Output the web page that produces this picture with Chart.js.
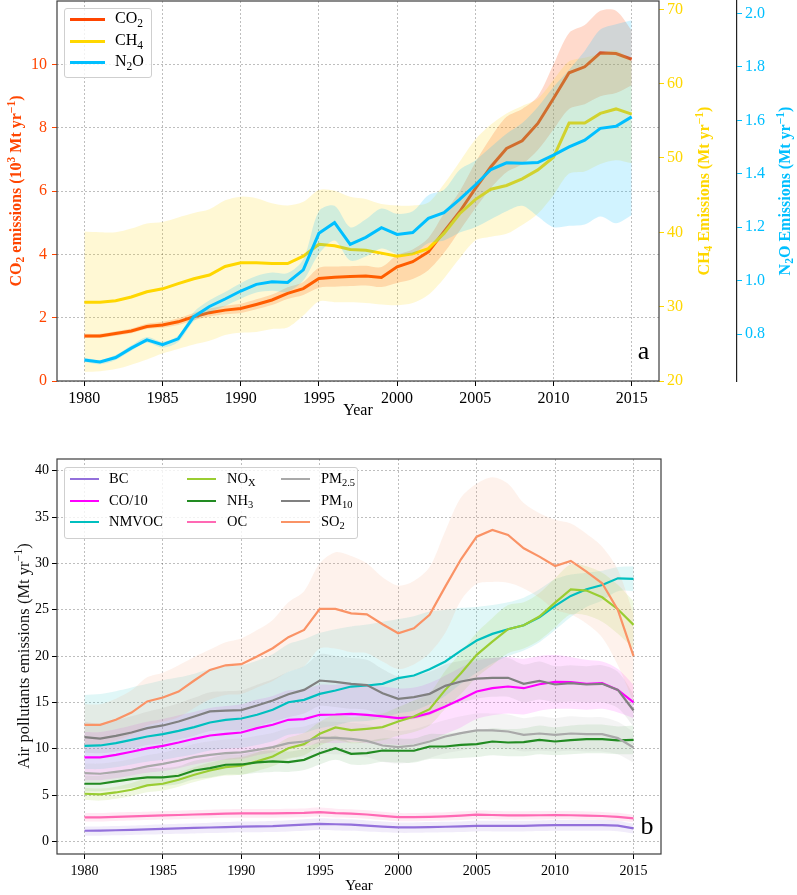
<!DOCTYPE html>
<html><head><meta charset="utf-8">
<script src="https://cdn.jsdelivr.net/npm/chart.js@4.4.1/dist/chart.umd.min.js"></script>
<style>
html,body{margin:0;padding:0;background:#fff;}
#wrap{position:relative;width:797px;height:895px;overflow:hidden;font-family:'Liberation Serif','Times New Roman',serif;color:#000;}
.cv{position:absolute;left:0;}
.lbl{position:absolute;white-space:nowrap;transform:translate(-50%,-50%);line-height:1;}
.vt{transform:translate(-50%,-50%) rotate(-90deg);}
.legend{position:absolute;background:rgba(255,255,255,0.8);border:1px solid #cfcfcf;border-radius:3px;box-sizing:border-box;}
.li{position:absolute;white-space:nowrap;line-height:1;transform:translateY(-55%);}
.sw{position:absolute;}
sub{font-size:72%;vertical-align:-0.3em;line-height:0;}
sup{font-size:72%;vertical-align:0.55em;line-height:0;}
</style></head>
<body><div id="wrap">
<canvas id="c1" class="cv" width="797" height="420" style="top:0"></canvas>
<canvas id="c2" class="cv" width="797" height="475" style="top:420px"></canvas>
<div id="overlay"></div>
</div>
<script>
// ---------------- DATA ----------------
const years = [1980,1981,1982,1983,1984,1985,1986,1987,1988,1989,1990,1991,1992,1993,1994,1995,1996,1997,1998,1999,2000,2001,2002,2003,2004,2005,2006,2007,2008,2009,2010,2011,2012,2013,2014,2015];
const yearTicks = [1980,1985,1990,1995,2000,2005,2010,2015];
const co2Ticks = [0,2,4,6,8,10];
const ch4Ticks = [20,30,40,50,60,70];
const n2oTicks = [0.8,1.0,1.2,1.4,1.6,1.8,2.0];
const polTicks = [0,5,10,15,20,25,30,35,40];

// panel a (CO2 in 10^3 Mt/yr, CH4 in Mt/yr, N2O in Mt/yr)
const co2 = [1.42,1.42,1.50,1.58,1.72,1.77,1.87,2.03,2.16,2.24, 2.29,2.42,2.56,2.77,2.92,3.24,3.28,3.30,3.32,3.27, 3.61,3.77,4.08,4.72,5.35,6.08,6.77,7.35,7.59,8.14, 8.93,9.74,9.93,10.37,10.35,10.17];
const co2Lo = [1.36,1.36,1.43,1.51,1.64,1.68,1.77,1.92,2.04,2.11, 2.15,2.27,2.40,2.59,2.72,2.95,2.98,3.00,3.02,2.97, 3.10,3.22,3.50,4.05,4.75,5.45,6.10,6.60,6.85,7.30, 7.95,8.60,8.75,9.00,9.10,9.35];
const co2Hi = [1.49,1.49,1.57,1.66,1.81,1.87,1.98,2.15,2.29,2.38, 2.44,2.58,2.73,2.96,3.13,3.58,3.62,3.63,3.64,3.60, 3.98,4.16,4.52,5.30,6.00,6.90,7.70,8.35,8.60,9.00, 10.00,11.00,11.25,11.70,11.70,11.08];
const ch4 = [30.6,30.6,30.8,31.3,32.0,32.4,33.1,33.75,34.25,35.4, 35.9,35.9,35.8,35.8,36.8,38.4,38.2,37.7,37.6,37.2, 36.8,37.1,37.8,39.85,42.5,44.4,45.8,46.3,47.2,48.4, 50.1,54.7,54.7,56.0,56.6,55.9];
const ch4Lo = [21.2,21.3,21.6,22.2,22.9,23.7,24.3,24.9,25.4,26.2, 26.5,26.6,27.0,27.2,28.8,30.7,30.6,30.6,30.5,30.3, 30.2,30.5,31.6,33.8,36.5,38.9,39.4,39.8,41.0,42.5, 45.0,47.9,48.2,49.2,49.7,49.3];
const ch4Hi = [40.1,40.0,40.0,40.5,41.2,41.4,42.0,42.6,43.1,44.3, 44.8,44.6,43.9,43.6,44.1,45.7,45.6,44.8,44.5,43.8, 43.6,43.6,44.0,46.5,49.5,52.5,54.5,56.0,57.0,58.0, 60.5,63.0,63.5,64.0,64.5,63.0];
const n2o = [0.703,0.695,0.712,0.747,0.778,0.760,0.782,0.865,0.903,0.931, 0.961,0.986,0.996,0.993,1.040,1.177,1.217,1.136,1.162,1.198, 1.173,1.180,1.233,1.254,1.304,1.358,1.416,1.441,1.439,1.442, 1.470,1.501,1.526,1.570,1.578,1.613];
const n2oLo = [0.695,0.687,0.703,0.737,0.767,0.749,0.770,0.848,0.880,0.905, 0.932,0.955,0.962,0.958,1.000,1.100,1.150,1.075,1.090,1.120, 1.100,1.100,1.140,1.150,1.180,1.200,1.230,1.260,1.280,1.240, 1.200,1.205,1.210,1.240,1.215,1.245];
const n2oHi = [0.711,0.703,0.721,0.757,0.789,0.771,0.794,0.882,0.926,0.957, 0.990,1.017,1.030,1.028,1.080,1.260,1.280,1.200,1.230,1.270, 1.250,1.260,1.320,1.340,1.415,1.450,1.500,1.550,1.590,1.650, 1.725,1.790,1.860,1.940,1.960,1.975];

// panel b (Mt/yr)
const bc = [1.15,1.17,1.20,1.25,1.30,1.35,1.40,1.45,1.50,1.55, 1.60,1.62,1.65,1.72,1.80,1.90,1.85,1.80,1.70,1.60, 1.52,1.52,1.55,1.58,1.62,1.68,1.68,1.68,1.68,1.72, 1.75,1.76,1.76,1.75,1.70,1.40];
const bcLo = [0.60,0.62,0.65,0.70,0.74,0.78,0.82,0.86,0.90,0.94, 0.98,1.00,1.02,1.08,1.14,1.22,1.18,1.14,1.06,0.98, 0.92,0.92,0.95,0.98,1.02,1.08,1.08,1.08,1.08,1.12, 1.15,1.16,1.16,1.15,1.10,0.85];
const bcHi = [1.60,1.62,1.66,1.72,1.78,1.84,1.90,1.96,2.02,2.08, 2.14,2.16,2.20,2.28,2.38,2.50,2.44,2.38,2.26,2.14, 2.05,2.05,2.08,2.12,2.16,2.22,2.22,2.22,2.22,2.26, 2.30,2.31,2.31,2.30,2.24,1.90];
const co10 = [9.06,9.06,9.34,9.67,10.03,10.31,10.67,11.07,11.43,11.61, 11.75,12.22,12.58,13.12,13.19,13.66,13.69,13.76,13.66,13.48, 13.30,13.40,13.84,14.56,15.35,16.17,16.53,16.71,16.53,16.96, 17.21,17.18,17.00,17.07,16.35,14.99];
const co10Lo = [6.6,6.6,6.8,7.1,7.4,7.6,7.9,8.3,8.6,8.8, 8.9,9.3,9.6,10.1,10.2,10.6,10.6,10.7,10.6,10.5, 10.4,10.5,10.9,11.6,12.3,13.2,13.6,13.8,13.7,14.1, 14.3,14.3,14.2,14.3,13.9,13.3];
const co10Hi = [11.8,11.8,12.1,12.5,12.9,13.2,13.6,14.0,14.4,14.6, 14.8,15.3,15.7,16.3,16.4,16.9,16.9,17.0,16.9,16.7, 16.5,16.6,17.1,17.9,18.8,19.5,19.8,19.9,19.7,20.0, 20.1,19.9,19.6,19.4,18.6,16.9];
const nmvoc = [10.31,10.35,10.60,10.96,11.32,11.57,11.93,12.33,12.83,13.12, 13.26,13.66,14.20,15.02,15.27,15.92,16.28,16.71,16.82,17.00, 17.61,17.90,18.58,19.41,20.59,21.67,22.39,22.89,23.32,24.19, 25.41,26.49,27.20,27.67,28.39,28.32];
const nmvocLo = [7.8,7.8,8.0,8.3,8.6,8.8,9.1,9.4,9.8,10.0, 10.1,10.4,10.8,11.5,11.7,12.2,12.5,12.9,13.0,13.3, 13.8,14.1,14.8,15.7,17.0,18.2,19.2,20.0,20.6,21.5, 22.8,24.2,25.3,26.0,27.0,27.0];
const nmvocHi = [15.8,15.9,16.2,16.6,17.0,17.4,17.7,18.1,18.6,18.9, 19.0,19.5,20.2,21.3,21.8,22.5,22.9,23.2,23.4,23.7, 24.0,24.3,24.8,25.0,25.2,25.3,25.5,25.8,26.3,27.2, 28.3,28.8,29.0,29.2,29.6,29.7];
const nox = [5.14,5.07,5.28,5.57,6.04,6.22,6.65,7.19,7.65,8.01, 8.16,8.63,9.16,10.06,10.49,11.61,12.29,12.00,12.15,12.33, 12.94,13.48,14.27,16.35,18.15,20.13,21.56,22.89,23.32,24.26, 25.77,27.20,27.06,26.34,25.05,23.36];
const noxLo = [4.5,4.4,4.6,4.9,5.3,5.5,5.9,6.4,6.8,7.1, 7.2,7.6,8.1,8.9,9.3,10.3,10.9,10.6,10.7,10.9, 11.4,11.8,12.5,14.3,15.9,17.7,19.0,20.3,20.8,21.7, 23.1,24.5,24.4,23.7,22.4,20.8];
const noxHi = [5.8,5.7,5.9,6.3,6.8,7.0,7.4,8.0,8.5,8.9, 9.1,9.6,10.2,11.2,11.7,12.9,13.7,13.4,13.6,13.8, 14.5,15.2,16.0,18.4,20.4,22.5,24.1,25.5,25.8,26.8, 28.4,29.9,29.7,29.0,27.7,25.9];
const nh3 = [6.22,6.22,6.47,6.72,6.90,6.90,7.08,7.65,7.91,8.27, 8.30,8.52,8.63,8.55,8.80,9.52,10.06,9.45,9.52,9.81, 9.78,9.78,10.24,10.24,10.42,10.49,10.78,10.67,10.71,10.96, 10.78,10.93,11.03,11.03,10.89,10.96];
const nh3Lo = [5.4,5.4,5.6,5.8,6.0,6.0,6.2,6.7,6.9,7.2, 7.2,7.4,7.5,7.5,7.7,8.3,8.8,8.3,8.3,8.6, 8.5,8.5,8.9,8.9,9.0,9.1,9.3,9.2,9.2,9.4, 9.3,9.4,9.5,9.5,9.4,9.4];
const nh3Hi = [7.1,7.1,7.4,7.7,7.9,7.9,8.1,8.7,9.0,9.4, 9.4,9.7,9.8,9.7,10.0,10.8,11.4,10.7,10.8,11.1, 11.1,11.1,11.6,11.6,11.8,11.9,12.2,12.1,12.2,12.5, 12.3,12.5,12.6,12.6,12.4,12.5];
const oc = [2.59,2.60,2.65,2.70,2.75,2.80,2.85,2.90,2.95,3.00, 3.02,3.03,3.03,3.05,3.08,3.16,3.05,3.00,2.90,2.75, 2.62,2.62,2.65,2.70,2.78,2.88,2.85,2.80,2.80,2.82, 2.84,2.82,2.78,2.74,2.65,2.48];
const ocLo = [2.15,2.15,2.20,2.25,2.30,2.35,2.40,2.45,2.50,2.55, 2.55,2.56,2.56,2.58,2.60,2.68,2.58,2.53,2.44,2.30, 2.18,2.18,2.20,2.25,2.32,2.42,2.39,2.35,2.35,2.37, 2.39,2.37,2.33,2.30,2.22,2.08];
const ocHi = [3.05,3.06,3.11,3.16,3.21,3.26,3.31,3.36,3.41,3.46, 3.49,3.50,3.50,3.53,3.56,3.65,3.53,3.47,3.36,3.20, 3.06,3.06,3.10,3.15,3.24,3.34,3.31,3.25,3.25,3.27, 3.29,3.27,3.23,3.18,3.08,2.88];
const pm25 = [7.37,7.30,7.51,7.73,8.09,8.37,8.70,9.09,9.34,9.52, 9.60,9.88,10.17,10.60,10.78,11.18,11.18,11.07,10.85,10.35, 10.17,10.35,10.78,11.32,11.68,11.97,11.97,11.86,11.50,11.64, 11.50,11.64,11.57,11.57,11.14,10.13];
const pm25Lo = [6.3,6.2,6.4,6.6,6.9,7.1,7.4,7.7,7.9,8.1, 8.1,8.4,8.6,9.0,9.1,9.4,9.4,9.3,9.1,8.6, 8.4,8.6,9.0,9.5,9.8,10.1,10.1,10.0,9.7,9.8, 9.7,9.8,9.7,9.7,9.4,8.5];
const pm25Hi = [8.4,8.4,8.6,8.9,9.3,9.6,10.0,10.5,10.8,11.0, 11.1,11.4,11.7,12.2,12.4,12.9,12.9,12.8,12.6,12.1, 11.9,12.1,12.6,13.1,13.5,13.8,13.8,13.7,13.3,13.5, 13.3,13.5,13.4,13.4,12.9,11.8];
const pm10 = [11.25,11.10,11.39,11.75,12.22,12.51,12.94,13.48,14.02,14.12, 14.16,14.66,15.20,15.88,16.35,17.36,17.21,17.00,16.86,15.99, 15.38,15.56,15.92,16.78,17.25,17.57,17.65,17.65,17.00,17.32, 16.93,17.07,16.93,17.00,16.35,14.12];
const pm10Lo = [9.6,9.5,9.7,10.0,10.4,10.6,11.0,11.4,11.9,12.0, 12.0,12.4,12.9,13.4,13.8,14.6,14.5,14.3,14.2,13.5, 13.0,13.2,13.6,14.5,15.0,15.4,15.6,15.6,15.0,15.3, 15.0,15.1,15.0,15.0,14.4,12.4];
const pm10Hi = [12.9,12.7,13.1,13.5,14.0,14.4,14.9,15.5,16.1,16.2, 16.3,16.9,17.5,18.3,18.9,20.2,20.0,19.8,19.6,18.6, 17.8,17.9,18.3,19.1,19.5,19.8,19.8,19.8,19.1,19.4, 18.9,19.0,18.9,19.0,18.3,15.9];
const so2 = [12.58,12.58,13.12,13.90,15.10,15.53,16.17,17.36,18.50,19.00, 19.12,19.95,20.84,22.03,22.82,25.08,25.08,24.60,24.50,23.43, 22.46,23.00,24.44,27.49,30.44,32.88,33.60,33.06,31.63,30.73, 29.72,30.26,29.10,27.85,24.98,20.00];
const so2Lo = [10.4,10.4,10.9,11.5,12.5,12.9,13.4,14.4,15.3,15.8, 15.9,16.6,17.3,18.3,18.9,20.8,20.8,20.4,20.3,19.4, 18.6,19.1,20.3,22.5,26.0,27.8,28.0,27.9,27.3,26.3, 25.0,24.5,23.5,22.0,19.0,15.0];
const so2Hi = [14.8,14.8,15.4,16.3,17.7,18.2,19.0,19.9,20.7,21.5, 21.9,22.8,23.9,25.8,27.0,30.0,31.2,30.8,30.0,28.5, 27.6,28.1,29.6,33.5,37.1,38.6,39.3,38.6,36.5,35.4, 34.7,34.3,33.2,31.8,29.3,24.5];

// ---------------- STYLE ----------------
const FONT = "'Liberation Serif','Times New Roman',serif";
const C_CO2 = '#ff4500', C_CH4 = '#ffd700', C_N2O = '#00bfff';
const GRID = 'rgba(0,0,0,0.32)';
const xy = arr => arr.map((v, i) => ({x: years[i], y: v}));
const X_MIN = 1978.25, X_MAX = 2016.75;

function lineDS(label, vals, color, axis, width) {
  return {label, data: xy(vals), yAxisID: axis, borderColor: color, borderWidth: width,
    pointRadius: 0, pointHoverRadius: 0, fill: false, tension: 0};
}
function bandHi(label, vals, fillColor, axis, target) {
  return {label, data: xy(vals), yAxisID: axis, borderColor: 'rgba(0,0,0,0)', borderWidth: 0,
    backgroundColor: fillColor, pointRadius: 0, fill: target, tension: 0.3};
}
function bandLo(label, vals, axis) {
  return {label, data: xy(vals), yAxisID: axis, borderColor: 'rgba(0,0,0,0)', borderWidth: 0,
    pointRadius: 0, fill: false, tension: 0.3};
}
const frame = {id: 'frame', afterDatasetsDraw(chart) {
  const {ctx, chartArea: a} = chart;
  ctx.save(); ctx.strokeStyle = '#3c3c3c'; ctx.lineWidth = 1.2;
  ctx.strokeRect(a.left, a.top, a.right - a.left, a.bottom - a.top); ctx.restore();
}};
const setTicks = arr => s => { s.ticks = arr.map(v => ({value: v})); };

// ---------------- PANEL A ----------------
const dsA = [
  lineDS('N2O', n2o, C_N2O, 'yN2O', 3),
  bandHi('N2O hi', n2oHi, 'rgba(0,191,255,0.18)', 'yN2O', 2),
  bandLo('N2O lo', n2oLo, 'yN2O'),
  lineDS('CH4', ch4, C_CH4, 'yCH4', 3),
  bandHi('CH4 hi', ch4Hi, 'rgba(255,215,0,0.17)', 'yCH4', 5),
  bandLo('CH4 lo', ch4Lo, 'yCH4'),
  lineDS('CO2', co2, C_CO2, 'yCO2', 3),
  bandHi('CO2 hi', co2Hi, 'rgba(255,69,0,0.2)', 'yCO2', 8),
  bandLo('CO2 lo', co2Lo, 'yCO2'),
];
new Chart(document.getElementById('c1'), {
  type: 'line',
  data: {datasets: dsA},
  plugins: [frame],
  options: {
    responsive: false, animation: false, devicePixelRatio: 1,
    layout: {padding: {top: 1, left: 0, right: 0, bottom: 0}, autoPadding: false},
    plugins: {legend: {display: false}, tooltip: {enabled: false}},
    scales: {
      x: {type: 'linear', min: X_MIN, max: X_MAX, afterBuildTicks: setTicks(yearTicks),
        afterFit: s => { s.height = 39; s.paddingLeft = 0; s.paddingRight = 0; },
        grid: {color: GRID, lineWidth: 0.8, tickColor: '#000', tickLength: 5, tickWidth: 1},
        border: {display: false, dash: [2, 2]},
        ticks: {font: {family: FONT, size: 16}, color: '#000', padding: 3, maxRotation: 0, autoSkip: false, callback: v => String(v)},
        title: {display: true, text: 'Year', font: {family: FONT, size: 16}, color: '#000', padding: {top: 0, bottom: 0}}},
      yCO2: {position: 'left', min: 0, max: 12.01, afterBuildTicks: setTicks(co2Ticks),
        afterFit: s => { s.width = 57; s.paddingTop = 0; s.paddingBottom = 0; },
        grid: {color: GRID, lineWidth: 0.8, tickColor: C_CO2, tickLength: 5, tickWidth: 1},
        border: {display: false, dash: [2, 2]},
        ticks: {font: {family: FONT, size: 16}, color: C_CO2, padding: 5, autoSkip: false, callback: v => String(v)}},
      yCH4: {position: 'right', weight: 1, min: 20, max: 71.12, afterBuildTicks: setTicks(ch4Ticks),
        afterFit: s => { s.width = 78; s.paddingTop = 0; s.paddingBottom = 0; },
        grid: {drawOnChartArea: false, tickColor: C_CH4, tickLength: 5, tickWidth: 1},
        border: {display: false},
        ticks: {font: {family: FONT, size: 16}, color: C_CH4, padding: 3, autoSkip: false, callback: v => String(v)}},
      yN2O: {position: 'right', weight: 2, min: 0.624, max: 2.047, afterBuildTicks: setTicks(n2oTicks),
        afterFit: s => { s.width = 60; s.paddingTop = 0; s.paddingBottom = 0; },
        grid: {drawOnChartArea: false, tickColor: C_N2O, tickLength: 5, tickWidth: 1},
        border: {display: true, color: '#222', width: 1.2},
        ticks: {font: {family: FONT, size: 16}, color: C_N2O, padding: 3, autoSkip: false, callback: v => v.toFixed(1)}}
    }
  }
});

// ---------------- PANEL B ----------------
const series = [
  {name: 'BC',      html: 'BC',           vals: bc,    lo: bcLo,    hi: bcHi,    color: '#9370db', fillA: 'rgba(147,112,219,0.13)'},
  {name: 'CO/10',   html: 'CO/10',        vals: co10,  lo: co10Lo,  hi: co10Hi,  color: '#ff00ff', fillA: 'rgba(255,0,255,0.12)'},
  {name: 'NMVOC',   html: 'NMVOC',        vals: nmvoc, lo: nmvocLo, hi: nmvocHi, color: '#00bfbf', fillA: 'rgba(0,191,191,0.12)'},
  {name: 'NOX',     html: 'NO<sub>X</sub>', vals: nox,   lo: noxLo,   hi: noxHi,   color: '#9acd32', fillA: 'rgba(154,205,50,0.15)'},
  {name: 'NH3',     html: 'NH<sub>3</sub>', vals: nh3,   lo: nh3Lo,   hi: nh3Hi,   color: '#228b22', fillA: 'rgba(34,139,34,0.1)'},
  {name: 'OC',      html: 'OC',           vals: oc,    lo: ocLo,    hi: ocHi,    color: '#ff69b4', fillA: 'rgba(255,105,180,0.14)'},
  {name: 'PM2.5',   html: 'PM<sub>2.5</sub>', vals: pm25, lo: pm25Lo, hi: pm25Hi, color: '#a9a9a9', fillA: 'rgba(169,169,169,0.13)'},
  {name: 'PM10',    html: 'PM<sub>10</sub>', vals: pm10,  lo: pm10Lo,  hi: pm10Hi,  color: '#808080', fillA: 'rgba(128,128,128,0.12)'},
  {name: 'SO2',     html: 'SO<sub>2</sub>', vals: so2,   lo: so2Lo,   hi: so2Hi,   color: '#fa9366', fillA: 'rgba(250,147,102,0.12)'},
];
const dsB = [];
for (let i = series.length - 1; i >= 0; i--) dsB.push(lineDS(series[i].name, series[i].vals, series[i].color, 'y', 2.2));
for (let i = series.length - 1; i >= 0; i--) {
  const s = series[i];
  const idx = dsB.length;
  dsB.push(bandHi(s.name + ' hi', s.hi, s.fillA, 'y', idx + 1));
  dsB.push(bandLo(s.name + ' lo', s.lo, 'y'));
}
new Chart(document.getElementById('c2'), {
  type: 'line',
  data: {datasets: dsB},
  plugins: [frame],
  options: {
    responsive: false, animation: false, devicePixelRatio: 1,
    layout: {padding: {top: 39, left: 0, right: 136, bottom: 0}, autoPadding: false},
    plugins: {legend: {display: false}, tooltip: {enabled: false}, filler: {drawTime: 'beforeDatasetsDraw'}},
    scales: {
      x: {type: 'linear', min: X_MIN, max: X_MAX, afterBuildTicks: setTicks(yearTicks),
        afterFit: s => { s.height = 41; s.paddingLeft = 0; s.paddingRight = 0; },
        grid: {color: GRID, lineWidth: 0.8, tickColor: '#000', tickLength: 5, tickWidth: 1},
        border: {display: false, dash: [2, 2]},
        ticks: {font: {family: FONT, size: 14}, color: '#000', padding: 4, maxRotation: 0, autoSkip: false, callback: v => String(v)},
        title: {display: true, text: 'Year', font: {family: FONT, size: 15}, color: '#000', padding: {top: 0, bottom: 0}}},
      y: {position: 'left', min: -1.36, max: 41.26, afterBuildTicks: setTicks(polTicks),
        afterFit: s => { s.width = 57; s.paddingTop = 0; s.paddingBottom = 0; },
        grid: {color: GRID, lineWidth: 0.8, tickColor: '#000', tickLength: 5, tickWidth: 1},
        border: {display: false, dash: [2, 2]},
        ticks: {font: {family: FONT, size: 14}, color: '#000', padding: 3, autoSkip: false, callback: v => String(v)}}
    }
  }
});

// ---------------- HTML overlays (titles, legends) ----------------
const ov = document.getElementById('overlay');
function addLbl(html, x, y, style, vertical) {
  const d = document.createElement('div');
  d.className = 'lbl' + (vertical ? ' vt' : '');
  d.style.cssText = `left:${x}px;top:${y}px;` + style;
  d.innerHTML = html; ov.appendChild(d);
}
addLbl('CO<sub>2</sub> emissions (10<sup>3</sup> Mt yr<sup>&minus;1</sup>)', 16, 191, 'font-weight:bold;font-size:16px;color:' + C_CO2, true);
addLbl('CH<sub>4</sub> Emissions (Mt yr<sup>&minus;1</sup>)', 704, 191, 'font-weight:bold;font-size:16px;color:' + C_CH4, true);
addLbl('N<sub>2</sub>O Emissions (Mt yr<sup>&minus;1</sup>)', 785, 191, 'font-weight:bold;font-size:16px;color:' + C_N2O, true);
addLbl('Air pollutants emissions (Mt yr<sup>&minus;1</sup>)', 24, 656, 'font-size:16.5px;font-weight:normal;color:#111', true);
addLbl('a', 643.5, 351, 'font-size:26px;color:#000', false);
addLbl('b', 647, 826, 'font-size:26px;color:#000', false);

function legendBox(x, y, w, h) {
  const d = document.createElement('div'); d.className = 'legend';
  d.style.cssText = `left:${x}px;top:${y}px;width:${w}px;height:${h}px;`;
  ov.appendChild(d);
}
function legendItem(html, color, sx, sw, th, tx, y, fs) {
  const s = document.createElement('div'); s.className = 'sw';
  s.style.cssText = `left:${sx}px;top:${y - th / 2}px;width:${sw}px;height:${th}px;background:${color};`;
  ov.appendChild(s);
  const t = document.createElement('div'); t.className = 'li';
  t.style.cssText = `left:${tx}px;top:${y}px;font-size:${fs}px;`;
  t.innerHTML = html; ov.appendChild(t);
}
legendBox(64, 8, 88, 70);
const legA = [['CO<sub>2</sub>', C_CO2], ['CH<sub>4</sub>', C_CH4], ['N<sub>2</sub>O', C_N2O]];
const rowA = [19, 41, 62];
legA.forEach((it, i) => legendItem(it[0], it[1], 70, 35, 3, 115, rowA[i], 16));

legendBox(64, 467, 294, 72);
const colSx = [70, 187, 281], colTx = [109, 227, 321], rowB = [479, 500.5, 522];
series.forEach((s, i) => {
  const c = Math.floor(i / 3), r = i % 3;
  legendItem(s.html, s.color, colSx[c], 29, 2, colTx[c], rowB[r], 14.5);
});
</script>
</body></html>
